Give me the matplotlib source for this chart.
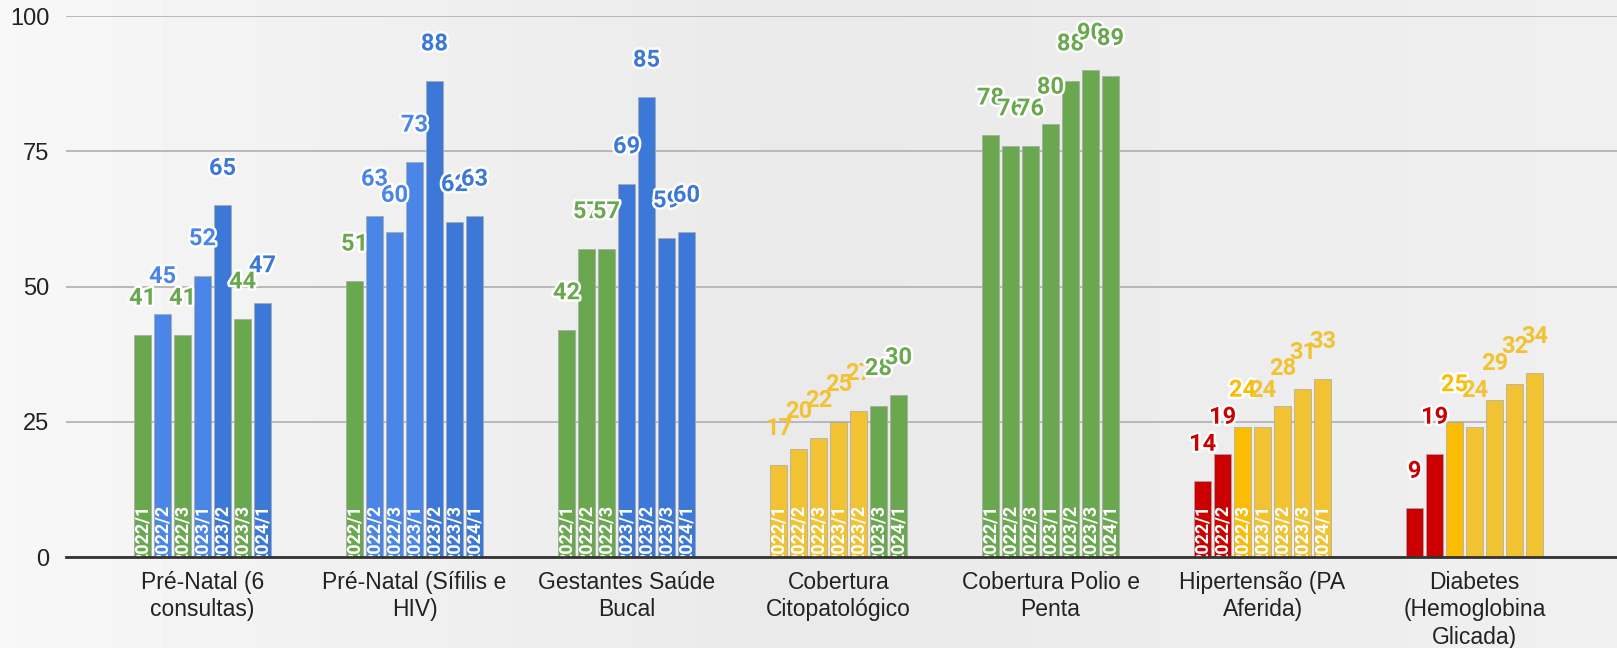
import matplotlib
matplotlib.use("Agg")
import matplotlib.pyplot as plt
import matplotlib.patheffects as pe
import numpy as np

# categories and periods
categories = ["Pré-Natal (6\nconsultas)", "Pré-Natal (Sífilis e\nHIV)", "Gestantes Saúde\nBucal",
              "Cobertura\nCitopatológico", "Cobertura Polio e\nPenta", "Hipertensão (PA\nAferida)",
              "Diabetes\n(Hemoglobina\nGlicada)"]
periods = ["2022/1", "2022/2", "2022/3", "2023/1", "2023/2", "2023/3", "2024/1"]

# one row per indicator, one value per period
values = [
    [41, 45, 41, 52, 65, 44, 47],
    [51, 63, 60, 73, 88, 62, 63],
    [42, 57, 57, 69, 85, 59, 60],
    [17, 20, 22, 25, 27, 28, 30],
    [78, 76, 76, 80, 88, 90, 89],
    [14, 19, 24, 24, 28, 31, 33],
    [9, 19, 25, 24, 29, 32, 34],
]

# colour code of each bar: g=green, b=light blue, B=dark blue, y=yellow, o=orange-yellow, r=red
status = [
    "gbgbBgB",
    "gbbbBBB",
    "gggBBBB",
    "yyyyygg",
    "ggggggg",
    "rroyyyy",
    "rroyyyy",
]

# the last group has no period names printed in its bars
show_periods = [True, True, True, True, True, True, False]

palette = {"g": "#6aa84f", "b": "#4a86e8", "B": "#3c78d8",
           "y": "#f1c232", "o": "#fbbc04", "r": "#cc0000"}
outlined = {"g", "b", "B", "o", "r"}

fig = plt.figure(figsize=(16.17, 6.48), dpi=100)

# soft grey background
bg = fig.add_axes([0, 0, 1, 1], zorder=-10)
xs = np.linspace(0, 1, 300)
shade = np.interp(xs, [0, 0.15, 0.5, 0.8, 1], [0.97, 0.95, 0.915, 0.93, 0.94])
grad = np.tile(shade, (40, 1))
bg.imshow(grad, cmap="gray", vmin=0, vmax=1, aspect="auto", extent=[0, 1, 0, 1])
bg.axis("off")

ax = fig.add_axes([0.0408, 0.1404, 0.9592, 0.8348])
ax.patch.set_alpha(0)

step = 0.0943
width = 0.0774
n = len(periods)
for gi, row in enumerate(values):
    for pi, v in enumerate(row):
        x = gi + (pi - (n - 1) / 2) * step
        code = status[gi][pi]
        col = palette[code]
        ax.bar(x, v, width=width, color=col, edgecolor="#a8a8a8", linewidth=0.5, zorder=3)
        # period label inside the bar
        if show_periods[gi]:
            ax.annotate(periods[pi], (x, 0), xytext=(0.5, -4), textcoords="offset points",
                        rotation=90, ha="center", va="bottom", color="white",
                        fontsize=13, fontweight="bold", family="Roboto", zorder=4,
                        annotation_clip=False, clip_on=True)
        # value label above the bar
        effects = [pe.withStroke(linewidth=3.5, foreground="white")] if code in outlined else None
        ax.annotate(str(v), (x, v), xytext=(0, 22), textcoords="offset points",
                    ha="center", va="baseline", color=col, fontsize=17,
                    fontweight="bold", family="Roboto", zorder=5,
                    path_effects=effects)

ax.set_xlim(-0.644, 6.672)
ax.set_ylim(0, 100)
ax.set_yticks([0, 25, 50, 75, 100])
ax.set_xticks(range(len(categories)))
ax.set_xticklabels(categories, fontsize=16.5, family="Liberation Sans", color="#222222",
                   linespacing=1.25)
for lab in ax.get_yticklabels():
    lab.set_fontsize(17)
    lab.set_family("Liberation Sans")
    lab.set_color("#222222")
ax.tick_params(axis="x", length=0, pad=10)
ax.tick_params(axis="y", length=0, pad=12)
ax.grid(axis="y", color="#b4b4b4", linewidth=1.3, zorder=0)
for s in ["top", "right", "left"]:
    ax.spines[s].set_visible(False)
ax.spines["bottom"].set_color("#333333")
ax.spines["bottom"].set_linewidth(2)
ax.spines["bottom"].set_zorder(6)

fig.savefig("out.png", dpi=100)
